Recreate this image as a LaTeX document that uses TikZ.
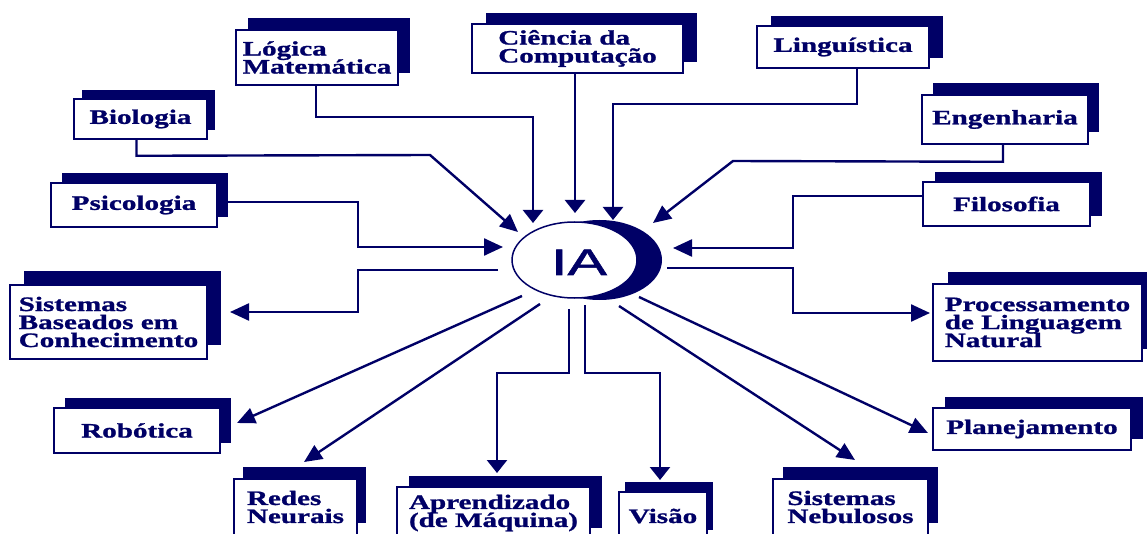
\documentclass[tikz,border=0pt]{standalone}
\usepackage{fontspec}
\newfontfamily\boxfont{Liberation Serif}[FakeStretch=1.42,FakeBold=1.2]
\newfontfamily\iafont{Liberation Sans}[FakeStretch=1.6,FakeBold=1.5]
\usetikzlibrary{arrows.meta,shapes.geometric,shadows}
\definecolor{navy}{RGB}{0,0,102}
\newcommand\lns[1]{\vtop{\baselineskip=18pt\lineskiplimit=-100pt\lineskip=0pt\halign{##\hfil\cr#1\crcr}}}
\begin{document}
\begin{tikzpicture}[x=1pt,y=-1pt,
  bxs/.style={draw=navy, line width=1.6pt, fill=white, inner sep=0pt, text=navy,
    font=\boxfont\bfseries\fontsize{20.5}{18}\selectfont},
  sh/.style 2 args={drop shadow={shadow xshift=#1pt, shadow yshift=#2pt, fill=navy, opacity=1}},
  cn/.style={draw=navy, line width=2.4pt},
  varr/.style={cn, -{Triangle[width=20pt,length=13pt]}},
  harr/.style={cn, -{Triangle[width=17pt,length=19pt]}},
  darr/.style={cn, -{Triangle[width=16pt,length=18pt]}}]
\useasboundingbox (0,0) rectangle (1147,534);
\clip (0,0) rectangle (1147,534);

% boxes
\node[bxs, sh={12}{12}, minimum width=162pt, minimum height=55pt] (lm) at (317,57.5) {\lns{Lógica\cr Matemática}};
\node[bxs, sh={14}{11}, minimum width=211pt, minimum height=49pt] (cc) at (577.5,48.5) {\lns{Ciência da\cr Computação}};
\node[bxs, sh={14}{10}, minimum width=172pt, minimum height=42pt] (li) at (843,47) {Linguística};
\node[bxs, sh={8}{9}, minimum width=133pt, minimum height=40pt] (bi) at (140.5,119) {Biologia};
\node[bxs, sh={11}{12}, minimum width=166pt, minimum height=49pt] (en) at (1005,119.5) {Engenharia};
\node[bxs, sh={11}{10}, minimum width=166pt, minimum height=44pt] (ps) at (134,205) {Psicologia};
\node[bxs, sh={12}{10}, minimum width=167pt, minimum height=44pt] (fi) at (1006.5,204) {Filosofia};
\node[bxs, sh={14}{14}, minimum width=197pt, minimum height=74pt] (sb) at (108.5,322) {\lns{Sistemas\cr Baseados em\cr Conhecimento}};
\node[bxs, sh={15}{12}, minimum width=209pt, minimum height=77pt] (pl) at (1037.5,322.5) {\lns{Processamento\cr de Linguagem\cr Natural}};
\node[bxs, sh={11}{10}, minimum width=166pt, minimum height=45pt] (ro) at (137,430.5) {Robótica};
\node[bxs, sh={12}{11}, minimum width=198pt, minimum height=42pt] (pj) at (1032,429) {Planejamento};
\node[bxs, sh={9}{12}, minimum width=123pt, minimum height=56pt] (rn) at (295.5,507) {\lns{Redes\cr Neurais}};
\node[bxs, sh={12}{11}, minimum width=193pt, minimum height=52pt] (am) at (493.5,513) {\lns{Aprendizado\cr (de Máquina)}};
\node[bxs, sh={6}{10}, minimum width=88pt, minimum height=48pt] (vi) at (663,516) {Visão};
\node[bxs, sh={10}{12}, minimum width=155pt, minimum height=56pt] (sn) at (850.5,507) {\lns{Sistemas\cr Nebulosos}};

% IA
\node[ellipse, fill=navy, inner sep=0pt, minimum width=125pt, minimum height=80pt] (IAsh) at (599.5,260) {};
\node[ellipse, draw=navy, line width=1.5pt, fill=white, inner sep=0pt, minimum width=125pt, minimum height=76pt] (IA) at (574.5,260) {};
\node[anchor=base, inner sep=0pt, text=navy, font=\iafont\fontsize{37}{40}\selectfont] (IAt) at (579,275) {IA};

% connector end points near IA
\coordinate (aLM) at (533,223);
\coordinate (aCC) at (575,213);
\coordinate (aLI) at (613,220);
\coordinate (aBI) at (518,232);
\coordinate (aEN) at (653,223);
\coordinate (aPS) at (503,247);
\coordinate (aFI) at (673,248);
\coordinate (oSB) at (498,270);
\coordinate (oPL) at (667,268);
\coordinate (oRO) at (522,296);
\coordinate (oRN) at (540,304);
\coordinate (oAM) at (569,309);
\coordinate (oVI) at (585,305);
\coordinate (oSN) at (619,306);
\coordinate (oPJ) at (639,297);
% tips near boxes
\coordinate (tSB) at (230,312);
\coordinate (tPL) at (930,313);
\coordinate (tRO) at (237,423);
\coordinate (tRN) at (304,462);
\coordinate (tAM) at (497,473);
\coordinate (tVI) at (660,480);
\coordinate (tSN) at (855,460);
\coordinate (tPJ) at (928,433);

% inbound
\draw[varr] ([xshift=-1pt]lm.south) -- ++(0,31) -| (aLM);
\draw[varr] (cc.south -| aCC) -- (aCC);
\draw[varr] ([xshift=14pt]li.south) -- ++(0,35) -| (aLI);
\draw[darr] ([xshift=-4pt]bi.south) -- ++(0,16) -- (430,155) -- (aBI);
\draw[darr] ([xshift=-2pt]en.south) -- ++(0,17) -- (733,161) -- (aEN);
\draw[harr] ([yshift=3pt]ps.east) -| (358,247) -- (aPS);
\draw[harr] ([yshift=8pt]fi.west) -| (793,248) -- (aFI);

% outbound
\draw[harr] (oSB) -| (358,312) -- (tSB);
\draw[harr] (oPL) -| (793,313) -- (tPL);
\draw[darr] (oRO) -- (tRO);
\draw[darr] (oRN) -- (tRN);
\draw[varr] (oAM) -- (569,373) -| (tAM);
\draw[varr] (oVI) -- (585,373) -| (tVI);
\draw[darr] (oSN) -- (tSN);
\draw[darr] (oPJ) -- (tPJ);
\end{tikzpicture}
\end{document}
